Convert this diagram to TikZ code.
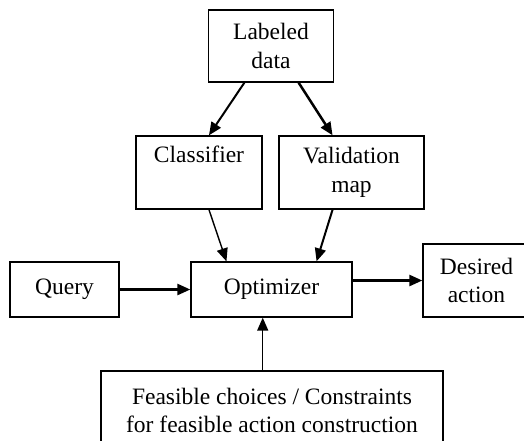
\documentclass[tikz,border=0pt]{standalone}
\usepackage{fontspec}
\setmainfont{Liberation Serif}
\usetikzlibrary{arrows.meta}
\begin{document}
\begin{tikzpicture}[x=1pt,y=-1pt,
    box/.style={draw,line width=1.3pt,inner sep=0pt,align=center,
      font=\fontsize{23.5}{28.5}\selectfont},
    link/.style={-{Triangle[length=13pt,width=11pt]},line width=2pt},
    thin link/.style={link,line width=1.4pt}]
  \useasboundingbox (0,0) rectangle (524,440);
  \clip (0,0) rectangle (524,440);
  \draw
    (271,46) node[box,minimum width=125,minimum height=72] (lab){Labeled\\data}
    (199,172.5) node[box,minimum width=126,minimum height=73] (cls){Classifier\\\strut}
    (351.5,172.5) node[box,minimum width=145,minimum height=73] (val){Validation\\map}
    (64.5,289.5) node[box,minimum width=109,minimum height=55] (qry){Query}
    (271.5,289.5) node[box,minimum width=161,minimum height=55] (opt){Optimizer}
    (476.5,280.5) node[box,minimum width=107,minimum height=73] (des){Desired\\action}
    (272,410.5) node[box,minimum width=342,minimum height=79] (fea){Feasible choices / Constraints\\for feasible action construction};
  \begin{scope}[link]
    \draw (lab.234) to (cls.75);
    \draw[line width=2.5pt] (lab.307) to (val.117);
    \draw[thin link] (cls.285) to (opt.148);
    \draw (val.243) to (opt.32);
    \draw[line width=2.5pt] (qry.east) to (opt.west);
    \draw[line width=2.5pt] (opt.east |- des.west) to (des.west);
    \draw[thin link] (fea.103) to (fea.103 |- opt.south);
  \end{scope}
\end{tikzpicture}
\end{document}
